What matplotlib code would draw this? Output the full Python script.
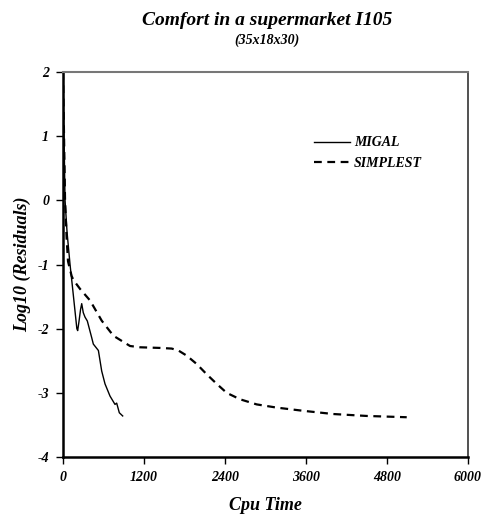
import numpy as np
import matplotlib
matplotlib.use("Agg")
from matplotlib import pyplot as plt

plt.rcParams["font.family"] = "Liberation Serif"
plt.rcParams["axes.unicode_minus"] = False

# MIGAL residual history (cpu time, log10 residual)
migal_t = [0, 15, 30, 60, 104, 140, 180, 205, 217, 235, 260, 277, 300, 326, 360,
           425, 449, 524, 573, 622, 696, 770, 795, 834, 884]
migal_r = [2.0, 1.0, 0.0, -0.5, -1.0, -1.35, -1.75, -2.0, -2.03, -1.9, -1.7,
           -1.61, -1.75, -1.82, -1.88, -2.14, -2.24, -2.34, -2.66, -2.86, -3.05,
           -3.18, -3.16, -3.31, -3.36]

# SIMPLEST residual history
simplest_t = [0, 15, 30, 54, 74, 104, 128, 153, 252, 400, 573, 746, 869, 993, 1141,
              1437, 1610, 1709, 1832, 1980, 2128, 2277, 2425, 2622, 2869, 3165, 3560,
              4004, 4499, 5092]
simplest_r = [2.0, 1.0, 0.0, -0.6, -0.95, -1.08, -1.18, -1.24, -1.38, -1.56, -1.875,
              -2.11, -2.19, -2.27, -2.29, -2.30, -2.31, -2.34, -2.42, -2.55, -2.71,
              -2.86, -3.0, -3.10, -3.18, -3.23, -3.28, -3.33, -3.36, -3.38]

xticks = [0, 1200, 2400, 3600, 4800, 6000]
yticks = [-4, -3, -2, -1, 0, 1, 2]

fig = plt.figure(figsize=(4.87, 5.16), dpi=100)
ax = fig.add_axes([0.1294, 0.1143, 0.8316, 0.7462])

ax.plot(migal_t, migal_r, color="black", lw=1.0, label="MIGAL")
ax.plot(simplest_t, simplest_r, color="black", lw=1.6, ls=(0, (3.5, 2.5)), label="SIMPLEST")

ax.set_xlim(0, 6000)
ax.set_ylim(-4, 2)
ax.set_xticks(xticks)
ax.set_yticks(yticks)
ax.tick_params(direction="out", length=5, width=1, labelsize=10, pad=5)
for lab in ax.get_xticklabels() + ax.get_yticklabels():
    lab.set_fontweight("bold")
    lab.set_fontstyle("italic")

ax.spines["left"].set_linewidth(1.8)
ax.spines["bottom"].set_linewidth(1.8)
ax.spines["right"].set_linewidth(1.2)
ax.spines["right"].set_color("#333333")
ax.spines["top"].set_linewidth(1.5)
ax.spines["top"].set_color("#777777")

ax.set_xlabel("Cpu Time", fontsize=13, fontweight="bold", fontstyle="italic", va="center")
ax.set_ylabel("Log10 (Residuals)", fontsize=13, fontweight="bold", fontstyle="italic", va="center")
ax.xaxis.set_label_coords(0.5, -0.125)
ax.yaxis.set_label_coords(-0.101, 0.5)

fig.text(0.548, 0.960, "Comfort in a supermarket I105", ha="center", va="center",
         fontsize=14, fontweight="bold", fontstyle="italic")
fig.text(0.548, 0.922, "(35x18x30)", ha="center", va="center",
         fontsize=10, fontweight="bold", fontstyle="italic")

ax.legend(loc="upper left", bbox_to_anchor=(0.588, 0.865), frameon=False,
          prop={"weight": "bold", "style": "italic", "size": 10},
          handlelength=2.6, handletextpad=0.3, labelspacing=0.55)

fig.savefig("out.png", dpi=100)
